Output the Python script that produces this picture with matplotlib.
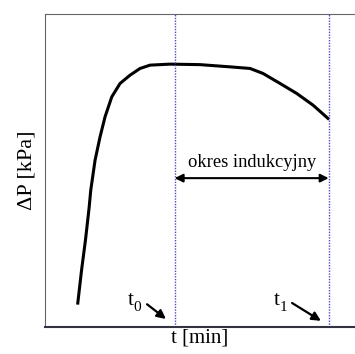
import matplotlib.pyplot as plt

# pressure curve (arbitrary units)
t = [1.055, 1.177, 1.303, 1.419, 1.474, 1.613, 1.774, 1.935, 2.152, 2.419, 2.742, 3.065, 3.387,
     4.032, 5.0, 5.968, 6.613, 7.032, 7.581, 8.119, 8.645, 9.129]
dp = [0.767, 1.821, 2.78, 3.80, 4.377, 5.335, 6.08, 6.72, 7.358, 7.786, 8.051, 8.265, 8.371,
      8.403, 8.387, 8.316, 8.265, 8.105, 7.786, 7.466, 7.093, 6.668]
t0 = 4.18
t1 = 9.15

plt.rcParams['font.family'] = ['Liberation Serif', 'DejaVu Serif']

fig = plt.figure(figsize=(3.55, 3.54), dpi=100)
ax = fig.add_axes([0.127, 0.076, 0.873, 0.884])

ax.plot(t, dp, color='black', lw=2.2, solid_joinstyle='round')

# induction period markers
for x in (t0, t1):
    ax.axvline(x, color='#4a4ad0', lw=1, linestyle=(0, (1, 1)))

ax.annotate('', xy=(t0, 4.76), xytext=(t1, 4.76),
            arrowprops=dict(arrowstyle='<|-|>', color='black', lw=1.5, mutation_scale=12, shrinkA=0, shrinkB=0))
ax.text((t0 + t1) / 2, 5.0, 'okres indukcyjny', ha='center', va='bottom', fontsize=13.3)

# t0 / t1 labels with hand-placed subscripts
for lab, sub, xl, xa in (('t', '0', 2.66, (3.29, 0.73, 3.9, 0.26)),
                         ('t', '1', 7.37, (7.97, 0.77, 8.9, 0.2))):
    ax.text(xl, 0.70, lab, ha='left', va='baseline', fontsize=15)
    ax.text(xl + 0.2, 0.52, sub, ha='left', va='baseline', fontsize=11)
    ax.annotate('', xy=(xa[2], xa[3]), xytext=(xa[0], xa[1]),
                arrowprops=dict(arrowstyle='-|>', color='black', lw=1.6, mutation_scale=13, shrinkA=0, shrinkB=0))

ax.set_xlim(0, 10)
ax.set_ylim(0, 10)
ax.set_xticks([])
ax.set_yticks([])
ax.spines['right'].set_visible(False)
ax.spines['top'].set_color('#666666')
ax.spines['left'].set_color('#666666')
ax.spines['bottom'].set_color('#333344')
ax.spines['bottom'].set_linewidth(1.5)

ax.set_xlabel('t [min]', fontsize=15, labelpad=1)
ax.set_ylabel('ΔP [kPa]', fontsize=16, labelpad=6)

fig.savefig('out.png', dpi=100)
